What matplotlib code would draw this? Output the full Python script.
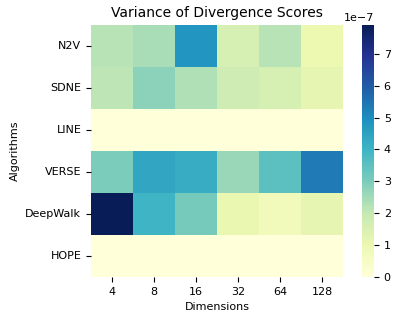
import numpy as np
import matplotlib
matplotlib.use('Agg')
import matplotlib.pyplot as plt
import seaborn as sns

algorithms = ['N2V', 'SDNE', 'LINE', 'VERSE', 'DeepWalk', 'HOPE']
dimensions = [4, 8, 16, 32, 64, 128]

# variance values, in units of 1e-7
n2v = [2.2, 2.4, 4.8, 1.6, 2.2, 1.0]
sdne = [2.1, 2.8, 2.3, 1.8, 1.6, 1.2]
line = [0.0, 0.0, 0.0, 0.0, 0.0, 0.0]
verse = [3.0, 4.4, 4.2, 2.6, 3.5, 5.4]
deepwalk = [7.9, 4.0, 3.1, 1.1, 0.8, 1.2]
hope = [0.0, 0.0, 0.0, 0.0, 0.0, 0.0]

data = np.array([n2v, sdne, line, verse, deepwalk, hope]) * 1e-7

fig = plt.figure(figsize=(3.99, 3.21), dpi=100)
ax = fig.add_axes([91/399, 0.137, 252/399, 0.785])
cax = fig.add_axes([362/399, 0.137, 12/399, 0.785])
sns.heatmap(data, cmap='YlGnBu', vmin=0, ax=ax, cbar_ax=cax,
            xticklabels=dimensions, yticklabels=algorithms)
ax.set_title('Variance of Divergence Scores', fontsize=10)
ax.set_xlabel('Dimensions', fontsize=8)
ax.set_ylabel('Algorithms', fontsize=8)
ax.tick_params(labelsize=8)
plt.setp(ax.get_yticklabels(), rotation=0)
cax.tick_params(labelsize=8)
cax.yaxis.get_offset_text().set_fontsize(8)
fig.savefig('out.png', dpi=100)
